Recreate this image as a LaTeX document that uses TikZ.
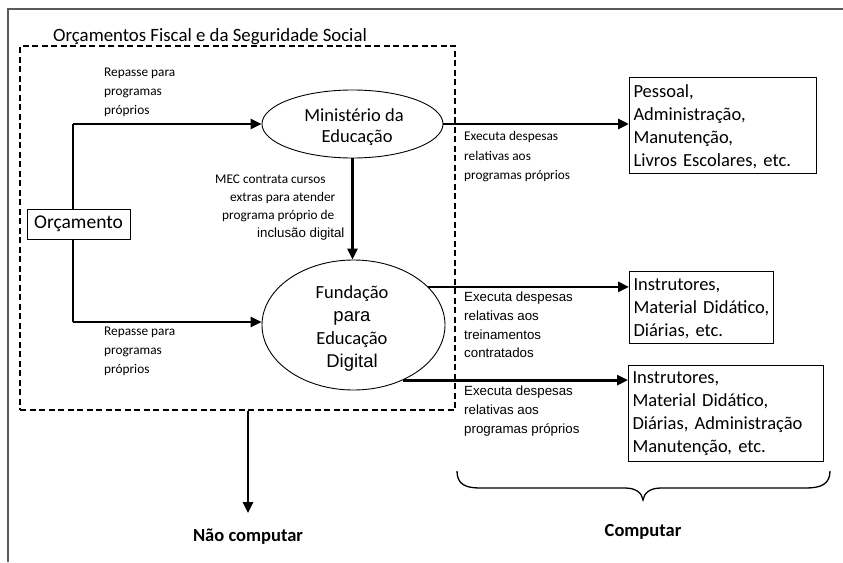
\documentclass[tikz,border=0pt]{standalone}
\usepackage{fontspec}
\setmainfont{Carlito}
\newfontfamily\arialf{Liberation Sans}
\usetikzlibrary{arrows.meta,shapes.geometric}
\begin{document}
\begin{tikzpicture}[x=1pt,y=-1pt,
  bigtxt/.style={font=\fontsize{18.5}{22.8}\selectfont},
  lbl/.style={font=\fontsize{13.3}{19.2}\selectfont, inner sep=0pt, align=left, anchor=west},
  arr/.style={line width=2.8pt, -{Triangle[length=11pt,width=10pt]}},
  ell/.style={draw, ellipse, line width=0.9pt, inner sep=0pt},
  elltxt/.style={inner sep=0pt, align=center},
  itembox/.style={draw, line width=1pt, inner xsep=4pt, inner ysep=0pt, align=left, anchor=north west,
     font=\fontsize{18.5}{23}\selectfont},
  frameline/.style={draw=black!65, line width=1.8pt},
  dashbox/.style={draw, line width=1.6pt, dash pattern=on 6pt off 3.5pt, inner sep=0pt},
  bracestyle/.style={line width=1.3pt}
]
\useasboundingbox (0,0) rectangle (843,562);
\fill[white] (0,0) rectangle (843,562);

% outer frame (top and left only)
\draw[frameline] (843,9) -- (8,9) -- (8,562);

% dashed budget box
\node[dashbox, minimum width=435pt, minimum height=364pt] (fiscal) at (237.5,228) {};
\node[inner sep=0pt, anchor=base west, font=\fontsize{18.8}{22}\selectfont] (title) at (53,41)
  {Orçamentos Fiscal e da Seguridade Social};

% ellipses
\node[ell, minimum width=181pt, minimum height=68pt] (mec) at (352.5,124) {};
\node[elltxt, font=\fontsize{18.5}{21}\selectfont] (mectxt) at (354,127)
  {Ministério da\\\,\,Educação};
\node[ell, minimum width=183pt, minimum height=130pt] (fund) at (353.5,325) {};
\node[elltxt, font=\fontsize{18.5}{22.7}\selectfont] (fundtxt) at (352,328.5)
  {Fundação\\{\arialf para}\\Educação\\{\arialf Digital}};

% trunk line and Orcamento box
\coordinate (j1) at (73,124);
\coordinate (j2) at (73,322);
\draw[line width=1.8pt] (j1) -- (j2);
\node[draw, fill=white, line width=1pt, minimum width=103pt, minimum height=30pt, inner sep=0pt,
  font=\fontsize{19.5}{22}\selectfont] (orc) at (78.5,224) {Orçamento};

\draw[arr] (j1) -- (mec.west);
\draw[arr] (j2) -- (j2 -| fund.west);
\draw[arr] (mec.south) -- (mec.south |- fund.north);

% right boxes
\node[itembox, text width=179pt, minimum height=96pt] (b1) at (629,77)
  {\rule{0pt}{15pt}Pessoal,\\Administração,\\Manutenção,\\Livros Escolares, etc.};
\node[itembox, text width=136pt, minimum height=72pt] (b2) at (629,271)
  {\rule{0pt}{15pt}Instrutores,\\Material Didático,\\Diárias, etc.};
\node[itembox, text width=187pt, minimum height=96pt] (b3) at (628,365)
  {Instrutores,\\Material Didático,\\Diárias, Administração\\Manutenção, etc.};

\draw[arr] (mec.east) -- (mec.east -| b1.west);
\draw[arr] (fund.27) -- (fund.27 -| b2.west);
\draw[arr] (fund.-48) -- (fund.-48 -| b3.west);

% labels
\node[lbl, font=\fontsize{13.3}{19}\selectfont] (rep1) at (104,92) {Repasse para\\programas\\próprios};
\node[lbl, font=\fontsize{13.3}{19}\selectfont] (rep2) at (104,351) {Repasse para\\programas\\próprios};
\node[lbl, font=\fontsize{13.3}{18}\selectfont] (meclbl) at (215,208)
  {MEC contrata cursos\\\hspace*{15pt}extras para atender\\\hspace*{7pt}programa próprio de\\\hspace*{42pt}{\arialf inclusão digital}};
\node[lbl, font=\fontsize{13.3}{19.5}\selectfont] (exe1) at (464,157) {Executa despesas\\relativas aos\\programas próprios};
\node[lbl, font=\arialf\fontsize{13.3}{18.7}\selectfont] (exe2) at (464,325) {Executa despesas\\relativas aos\\treinamentos\\contratados};
\node[lbl, font=\arialf\fontsize{13.3}{18.6}\selectfont] (exe3) at (464,411) {Executa despesas\\relativas aos\\programas próprios};

% non computar
\node[inner sep=0pt, font=\bfseries\fontsize{18.5}{22}\selectfont] (nao) at (248,537) {Não computar};
\coordinate (ncend) at (248,513);
\draw[arr, line width=2.6pt] (ncend |- fiscal.south) -- (ncend);

% brace and computar
\draw[bracestyle] (457,471) .. controls (457,484) and (465,488) .. (480,488) -- (625,488)
  .. controls (636,488) and (642,493) .. (643,500)
  .. controls (644,493) and (650,488) .. (661,488) -- (806,488)
  .. controls (821,488) and (830,484) .. (830,471);
\node[inner sep=0pt, font=\bfseries\fontsize{18.5}{22}\selectfont] (comp) at (643,532) {Computar};
\end{tikzpicture}
\end{document}
